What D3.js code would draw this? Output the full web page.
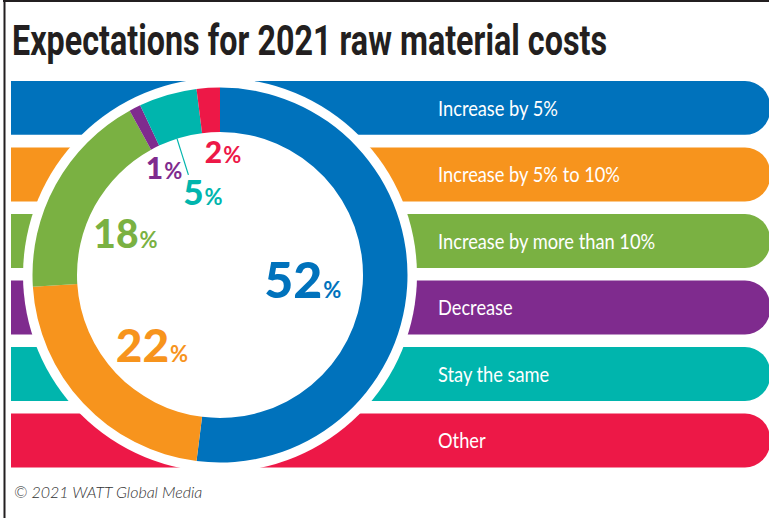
<!DOCTYPE html>
<html>
<head>
<meta charset="utf-8">
<script src="https://cdn.jsdelivr.net/npm/d3@7/dist/d3.min.js"></script>
<style>
  html, body { margin: 0; padding: 0; background: #fff; }
  svg { display: block; }
</style>
</head>
<body>
<svg id="chart" width="769" height="518"></svg>
<script>
// Survey answers, in the order they run clockwise round the ring
const categories = ["Increase by 5%", "Increase by 5% to 10%", "Increase by more than 10%", "Decrease", "Stay the same", "Other"];
const shares = [52, 22, 18, 1, 5, 2];
const colors = ["#0072bc", "#f7941d", "#7ab142", "#7f2b8e", "#00b5ad", "#ed1847"];

const title = "Expectations for 2021 raw material costs";
const credit = "© 2021 WATT Global Media";

// Placement of each percentage label: radius from the centre, shift from the slice mid-angle (deg), font size
const labelRadius = [83, 98, 103, 121, 84, 123];
const labelShift = [0, -2.8, -5.5, -0.6, 4.5, 5];
const labelSize = [50, 46, 39, 30, 35, 30];

const W = 769, H = 518;
const svg = d3.select("#chart");

// Frame lines along the top and left
svg.append("line").attr("x1", 3).attr("x2", W).attr("y1", 1).attr("y2", 1)
  .attr("stroke", "#231f20").attr("stroke-width", 2);
svg.append("line").attr("x1", 4.5).attr("x2", 4.5).attr("y1", 0).attr("y2", H)
  .attr("stroke", "#231f20").attr("stroke-width", 2);

// Title, set tight and tall like a condensed headline face
svg.append("text")
  .attr("transform", "translate(12,55) scale(1,1.1)")
  .attr("textLength", 595).attr("lengthAdjust", "spacingAndGlyphs")
  .attr("font-family", "Roboto, 'Liberation Sans', sans-serif")
  .attr("font-weight", 700).attr("font-size", 38)
  .attr("fill", "#231f20")
  .text(title);

// Legend bands behind the ring
const y = d3.scaleBand().domain(categories).range([81, 467.4]).paddingInner(0.19).paddingOuter(0);
const x0 = 11, x1 = 770, rEnd = 25;

function band(top, h) {
  return `M${x0},${top}H${x1 - rEnd}A${rEnd},${rEnd} 0 0 1 ${x1},${top + rEnd}` +
         `V${top + h - rEnd}A${rEnd},${rEnd} 0 0 1 ${x1 - rEnd},${top + h}H${x0}Z`;
}

svg.append("g").selectAll("path")
  .data(categories)
  .join("path")
  .attr("d", d => band(y(d), y.bandwidth()))
  .attr("fill", (d, i) => colors[i]);

svg.append("g").selectAll("text")
  .data(categories)
  .join("text")
  .attr("transform", d => `translate(438,${y(d) + y.bandwidth() / 2 + 8}) scale(0.87,1)`)
  .attr("font-family", "Lato, 'Open Sans', sans-serif")
  .attr("font-size", 21)
  .attr("fill", "#fff")
  .text(d => d);

// Donut
const cx = 220, cy = 275, rInner = 143, rOuter = 187.5, rHalo = 197;
const g = svg.append("g").attr("transform", `translate(${cx},${cy})`);

g.append("circle").attr("r", rHalo).attr("fill", "#fff");

const pie = d3.pie().sort(null).value(d => d);
const arcs = pie(shares);
const arc = d3.arc().innerRadius(rInner).outerRadius(rOuter);

g.selectAll("path.slice")
  .data(arcs)
  .join("path")
  .attr("class", "slice")
  .attr("d", arc)
  .attr("fill", (d, i) => colors[i]);

const polar = (r, a) => [r * Math.sin(a), -r * Math.cos(a)];
const mid = d => (d.startAngle + d.endAngle) / 2;

// Leader line for the "Stay the same" slice
const tealIdx = categories.indexOf("Stay the same");
const tealAng = mid(arcs[tealIdx]) - 1.3 * Math.PI / 180;
const pA = polar(rInner, tealAng), pB = polar(105, tealAng);
g.append("line")
  .attr("x1", pA[0]).attr("y1", pA[1]).attr("x2", pB[0]).attr("y2", pB[1])
  .attr("stroke", colors[tealIdx]).attr("stroke-width", 1.2);

// Percentage labels
const labels = g.selectAll("text.pct")
  .data(arcs)
  .join("text")
  .attr("class", "pct")
  .attr("text-anchor", "middle")
  .attr("font-family", "Lato, 'Open Sans', sans-serif")
  .attr("fill", (d, i) => colors[i])
  .attr("transform", (d, i) => {
    const p = polar(labelRadius[i], mid(d) + labelShift[i] * Math.PI / 180);
    return `translate(${p[0]},${p[1] + labelSize[i] * 0.36})`;
  });

labels.append("tspan")
  .attr("font-weight", 900)
  .attr("font-size", (d, i) => labelSize[i])
  .text(d => d.data);
labels.append("tspan")
  .attr("font-weight", 700)
  .attr("dx", 1)
  .attr("font-size", 22)
  .text("%");

// Credit line
svg.append("text")
  .attr("x", 14).attr("y", 498)
  .attr("font-family", "Lato, 'Open Sans', sans-serif")
  .attr("font-style", "italic").attr("font-weight", 300)
  .attr("font-size", 16)
  .attr("fill", "#333")
  .text(credit);
</script>
</body>
</html>
